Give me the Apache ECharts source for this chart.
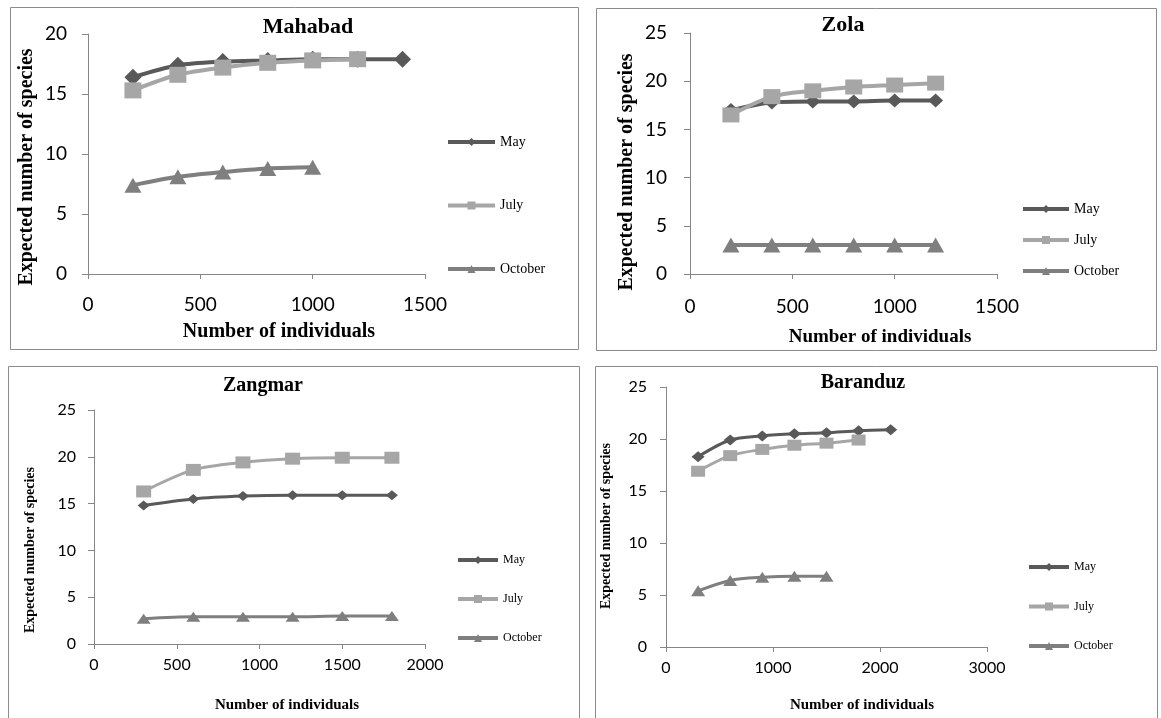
<!DOCTYPE html>
<html><head><meta charset="utf-8">
<script src="https://cdn.jsdelivr.net/npm/echarts@6/dist/echarts.min.js"></script>
<style>html,body{margin:0;padding:0;background:#fff}#c{width:1161px;height:718px}</style>
</head><body><div id="c"></div>
<script>
// ---------- data ----------
const seriesNames = ['May', 'July', 'October'];
const panelTitles = ['Mahabad', 'Zola', 'Zangmar', 'Baranduz'];
const xAxisTitle = 'Number of individuals';
const yAxisTitle = 'Expected number of species';

// Mahabad
const mahabadX = [200, 400, 600, 800, 1000, 1200, 1400];
const mahabadMay = [16.4, 17.4, 17.7, 17.8, 17.9, 17.9, 17.9];
const mahabadJuly = [15.3, 16.6, 17.2, 17.6, 17.8, 17.9];
const mahabadOctober = [7.4, 8.1, 8.5, 8.8, 8.9];
// Zola
const zolaX = [200, 400, 600, 800, 1000, 1200];
const zolaMay = [17.0, 17.8, 17.9, 17.9, 18.0, 18.0];
const zolaJuly = [16.5, 18.4, 19.0, 19.4, 19.6, 19.8];
const zolaOctober = [3.0, 3.0, 3.0, 3.0, 3.0, 3.0];
// Zangmar
const zangmarX = [300, 600, 900, 1200, 1500, 1800];
const zangmarMay = [14.8, 15.5, 15.8, 15.9, 15.9, 15.9];
const zangmarJuly = [16.3, 18.6, 19.4, 19.8, 19.9, 19.9];
const zangmarOctober = [2.7, 2.9, 2.9, 2.9, 3.0, 3.0];
// Baranduz
const baranduzX = [300, 600, 900, 1200, 1500, 1800, 2100];
const baranduzMay = [18.3, 19.9, 20.3, 20.5, 20.6, 20.8, 20.9];
const baranduzJuly = [16.9, 18.4, 19.0, 19.4, 19.6, 19.9];
const baranduzOctober = [5.4, 6.4, 6.7, 6.8, 6.8];

// axis scales (ticks)
const xMaxes = [1500, 1500, 2000, 3000];
const xIntervals = [500, 500, 500, 1000];
const yMaxes = [20, 25, 25, 25];
const yInterval = 5;

const panelData = [
  [mahabadX, mahabadMay, mahabadJuly, mahabadOctober],
  [zolaX, zolaMay, zolaJuly, zolaOctober],
  [zangmarX, zangmarMay, zangmarJuly, zangmarOctober],
  [baranduzX, baranduzMay, baranduzJuly, baranduzOctober]
];

// ---------- layout / style ----------
const colors = {May: '#595959', July: '#a6a6a6', October: '#7f7f7f'};
const symbols = {May: 'diamond', July: 'rect', October: 'triangle'};
const layout = [
  {grid: {left: 88, top: 34, width: 337, height: 240}, border: [10, 7, 568, 342],
   title: [308, 27, 22], xName: [279, 332, 20], yName: [27, 167, 20],
   axisFont: 19, yMargin: 21, xMargin: 21,
   legend: {left: 446, top: 135, gap: 49.5, w: 47, font: 14},
   lw: 4, sizes: {May: [17, 17], July: [17, 16], October: [17, 15]}},
  {grid: {left: 690, top: 33, width: 307, height: 241}, border: [596, 8, 560, 342],
   title: [843, 25, 22], xName: [880, 337, 19], yName: [627, 172, 20],
   axisFont: 19, yMargin: 23, xMargin: 23,
   legend: {left: 1021, top: 202, gap: 17, w: 46, font: 14},
   lw: 4, sizes: {May: [15, 14], July: [17, 15], October: [17, 15]}},
  {grid: {left: 94, top: 410, width: 331, height: 234}, border: [8, 366, 571, 360],
   title: [263, 386, 20], xName: [287, 705, 15], yName: [30, 550, 14],
   axisFont: 16, yMargin: 18, xMargin: 13,
   legend: {left: 456, top: 553, gap: 25, w: 40, font: 12},
   lw: 3, sizes: {May: [12, 10], July: [15, 12], October: [14, 10]}},
  {grid: {left: 666, top: 387, width: 321, height: 260}, border: [595, 366, 562, 360],
   title: [863, 383, 20], xName: [862, 705, 15], yName: [606, 526, 14],
   axisFont: 16, yMargin: 19, xMargin: 13,
   legend: {left: 1027, top: 560, gap: 25.5, w: 40, font: 12},
   lw: 3, sizes: {May: [13, 11], July: [14, 11], October: [14, 11]}}
];

const plain = v => String(v);
const axisLineStyle = {show: true, lineStyle: {color: '#868686', width: 1}};
const grids = [], xAxes = [], yAxes = [], series = [], legends = [], graphics = [];

layout.forEach((L, gi) => {
  grids.push(Object.assign({containLabel: false}, L.grid));
  xAxes.push({type: 'value', gridIndex: gi, min: 0, max: xMaxes[gi], interval: xIntervals[gi],
    axisLine: axisLineStyle, axisTick: {show: true, length: 5, lineStyle: {color: '#868686'}},
    splitLine: {show: false},
    axisLabel: {color: '#000', fontFamily: 'Lato', fontSize: L.axisFont, margin: L.xMargin, formatter: plain}});
  yAxes.push({type: 'value', gridIndex: gi, min: 0, max: yMaxes[gi], interval: yInterval,
    axisLine: axisLineStyle, axisTick: {show: true, length: 6, lineStyle: {color: '#868686'}},
    splitLine: {show: false},
    axisLabel: {color: '#000', fontFamily: 'Lato', fontSize: L.axisFont, margin: L.yMargin, formatter: plain}});
  const [xs, ...ys] = panelData[gi];
  seriesNames.forEach((name, si) => {
    series.push({
      type: 'line', name, xAxisIndex: gi, yAxisIndex: gi,
      data: ys[si].map((v, i) => [xs[i], v]),
      symbol: symbols[name], symbolSize: L.sizes[name], showAllSymbol: true,
      smooth: 0.3,
      lineStyle: {color: colors[name], width: L.lw},
      itemStyle: {color: colors[name]},
      z: 2 + si
    });
  });
  legends.push({
    orient: 'vertical', left: L.legend.left, top: L.legend.top, padding: 0,
    itemGap: L.legend.gap, itemWidth: L.legend.w, itemHeight: 10,
    selectedMode: false, data: seriesNames,
    lineStyle: {width: 4},
    textStyle: {fontFamily: 'Liberation Serif', fontSize: L.legend.font, color: '#000', lineHeight: 14}
  });
  graphics.push({type: 'rect', shape: {x: L.border[0] + 0.5, y: L.border[1] + 0.5, width: L.border[2], height: L.border[3]},
    style: {fill: null, stroke: '#8c8c8c', lineWidth: 1}, silent: true});
  graphics.push({type: 'text', x: L.title[0], y: L.title[1],
    style: {text: panelTitles[gi], font: 'bold ' + L.title[2] + 'px "Liberation Serif"', fill: '#000',
      align: 'center', verticalAlign: 'middle', textAlign: 'center', textVerticalAlign: 'middle'}});
  graphics.push({type: 'text', x: L.xName[0], y: L.xName[1],
    style: {text: xAxisTitle, font: 'bold ' + L.xName[2] + 'px "Liberation Serif"', fill: '#000',
      align: 'center', verticalAlign: 'middle', textAlign: 'center', textVerticalAlign: 'middle'}});
  graphics.push({type: 'text', x: L.yName[0], y: L.yName[1], rotation: Math.PI / 2,
    style: {text: yAxisTitle, font: 'bold ' + L.yName[2] + 'px "Liberation Serif"', fill: '#000',
      align: 'center', verticalAlign: 'middle', textAlign: 'center', textVerticalAlign: 'middle'}});
});

const chart = echarts.init(document.getElementById('c'), null, {renderer: 'canvas'});
chart.setOption({
  animation: false,
  backgroundColor: '#fff',
  grid: grids, xAxis: xAxes, yAxis: yAxes, series, legend: legends,
  graphic: {elements: graphics}
});
</script>
</body></html>
